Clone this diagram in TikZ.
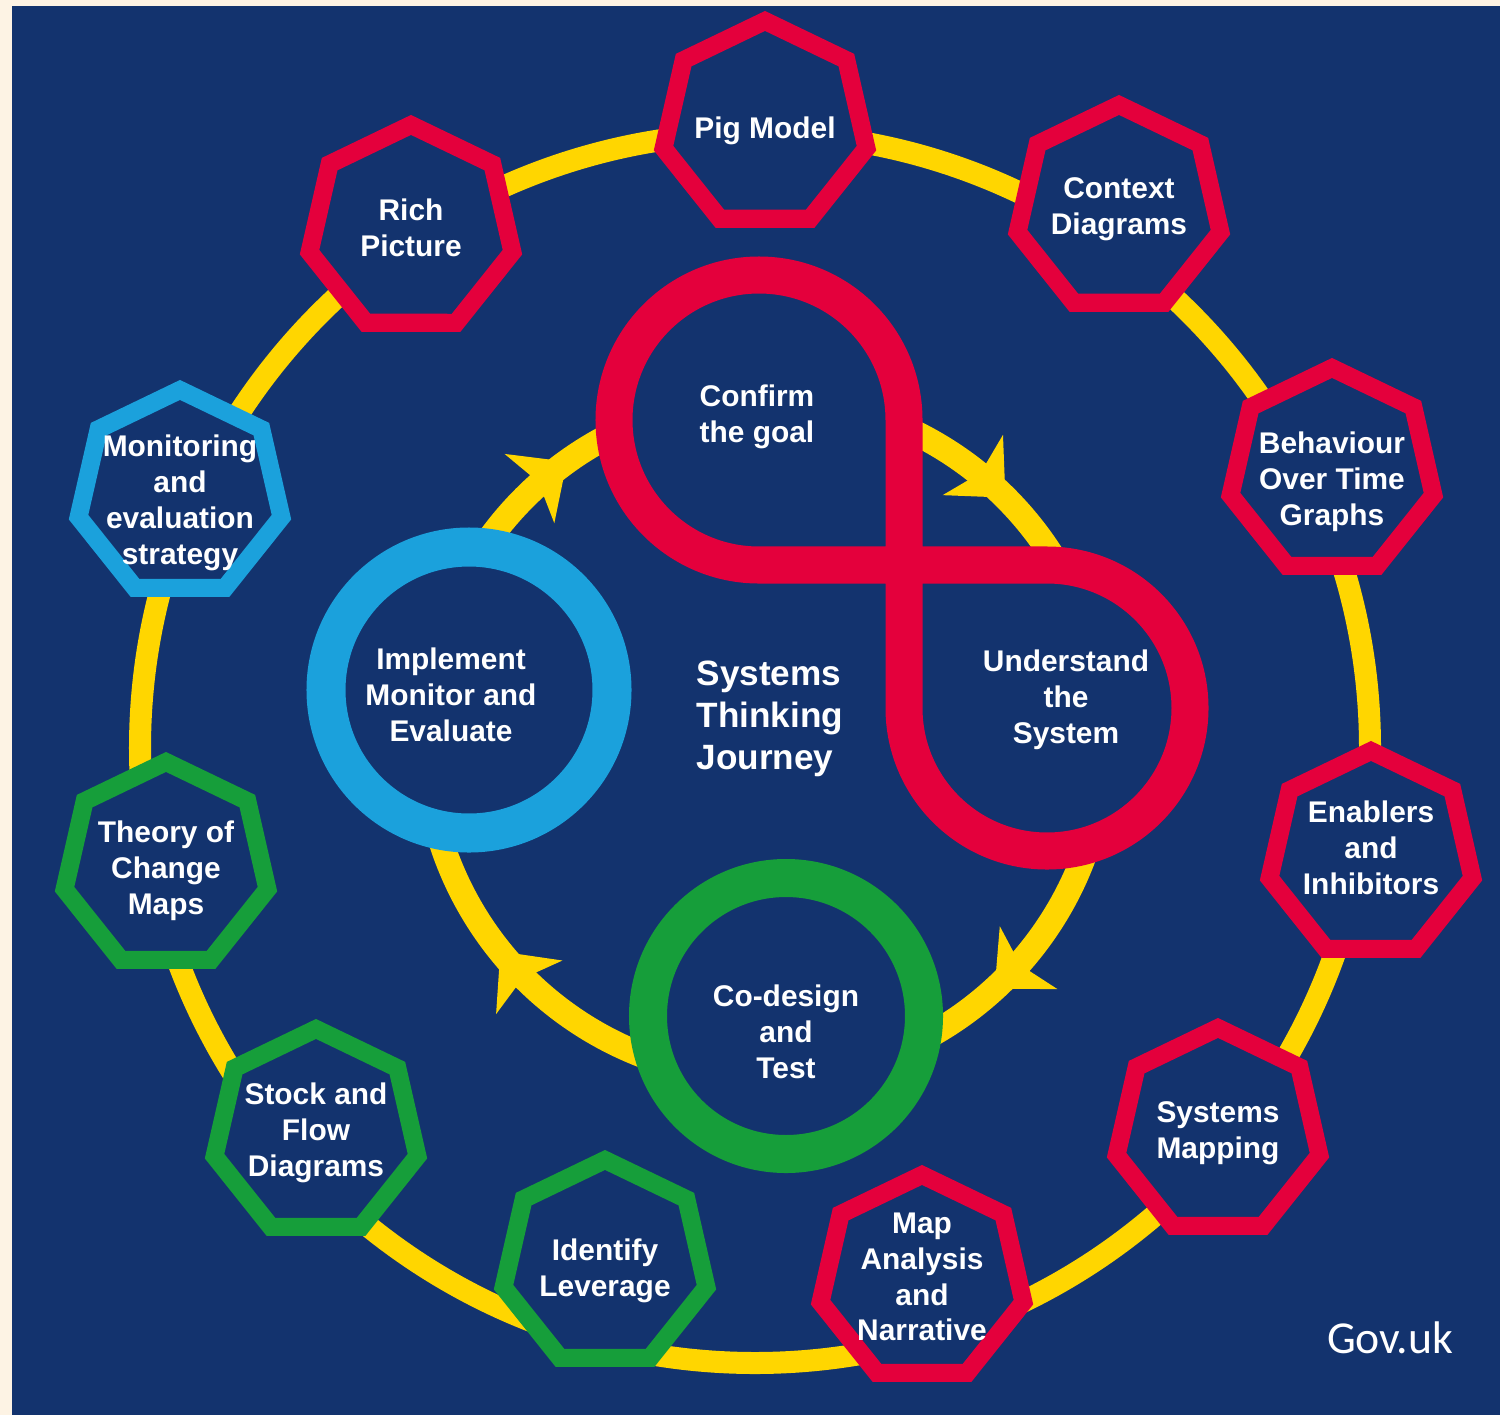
\documentclass[tikz,border=0pt]{standalone}
\usepackage{fontspec}
\setmainfont{Liberation Sans}
\newfontfamily\govfont{Carlito}
\usetikzlibrary{shapes.geometric,arrows.meta,decorations.markings}

\definecolor{cream}{HTML}{FDF3E4}
\definecolor{navy}{HTML}{13336E}
\definecolor{stred}{HTML}{E4003C}
\definecolor{styellow}{HTML}{FFD600}
\definecolor{stcyan}{HTML}{1BA1DC}
\definecolor{stgreen}{HTML}{169E3A}

\tikzset{
  tool/.style={regular polygon, regular polygon sides=7, minimum size=2.08cm,
    inner sep=0pt, line width=0.18cm, draw=#1, fill=navy},
  tooltext/.style={text=white, align=center, inner sep=0pt,
    font=\bfseries\fontsize{8.5}{10.2}\selectfont},
  bigtip/.tip={Stealth[length=0.46cm,width=0.85cm,inset=0.11cm,line width=0.5pt]},
}

\begin{document}
\begin{tikzpicture}[x=0.01cm, y=-0.01cm]
  % Background
  \fill[cream] (0,0) rectangle (1500,1415);
  \fill[navy] (12,6) rectangle (1500,1415);
  \useasboundingbox (0,0) rectangle (1500,1415);

  % Outer ring
  \draw[styellow, line width=0.22cm] (755,748) circle[radius=615];

  % Tools on the outer ring
  \foreach \nm/\x/\y/\ty/\col/\txt in {
      pig/765/125/131/stred/{Pig Model},
      context/1119/209/209/stred/{Context\\Diagrams},
      rich/411/229/228/stred/{Rich\\Picture},
      behaviour/1332/472/482/stred/{Behaviour\\Over Time\\Graphs},
      monitoring/180/494/503/stcyan/{Monitoring\\and\\evaluation\\strategy},
      enablers/1371/855/848/stred/{Enablers\\and\\Inhibitors},
      theory/166/866/871/stgreen/{Theory of\\Change\\Maps},
      sysmap/1218/1132/1133/stred/{Systems\\Mapping},
      stock/316/1133/1133/stgreen/{Stock and\\Flow\\Diagrams},
      leverage/605/1264/1271/stgreen/{Identify\\Leverage},
      mapanalysis/922/1279/1277/stred/{Map\\Analysis\\and\\Narrative}}{
    \node[tool=\col] (\nm) at (\x,\y) {};
    \node[tooltext] (\nm-label) at (\x,\ty) {\txt};
  }

  % Inner ring with arrows
  \draw[styellow, line width=0.25cm,
    decoration={markings,
      mark=at position 0.132 with {\arrow{bigtip}},
      mark=at position 0.392 with {\arrow{bigtip}},
      mark=at position 0.651 with {\arrow{bigtip}},
      mark=at position 0.875 with {\arrow{bigtip}}},
    postaction=decorate] (765,738) circle[radius=340];

  % Stages
  \draw[stcyan, line width=0.39cm, fill=navy] (469,690) circle[radius=143];
  \draw[stgreen, line width=0.38cm, fill=navy] (786,1016) circle[radius=138];
  \draw[stred, line width=0.37cm, fill=navy, line join=round]
    (904,565) -- (904,420) arc[start angle=0, end angle=-270, radius=145]
    -- (1047,565) arc[start angle=-90, end angle=180, radius=143] -- cycle;

  \node[tooltext] (confirm) at (757,417) {Confirm\\the goal};
  \node[tooltext] (understand) at (1066,700) {Understand\\the\\System};
  \node[tooltext] (implement) at (451,695) {Implement\\Monitor and\\Evaluate};
  \node[tooltext] (codesign) at (786,1032) {Co-design\\and\\Test};
  \node[tooltext, anchor=west, align=left, font=\bfseries\fontsize{10}{12}\selectfont]
    (journey) at (696,719) {Systems\\Thinking\\Journey};

  % Source
  \node[text=white, font=\govfont\fontsize{13}{15}\selectfont] (source) at (1390,1338) {Gov.uk};
\end{tikzpicture}
\end{document}
